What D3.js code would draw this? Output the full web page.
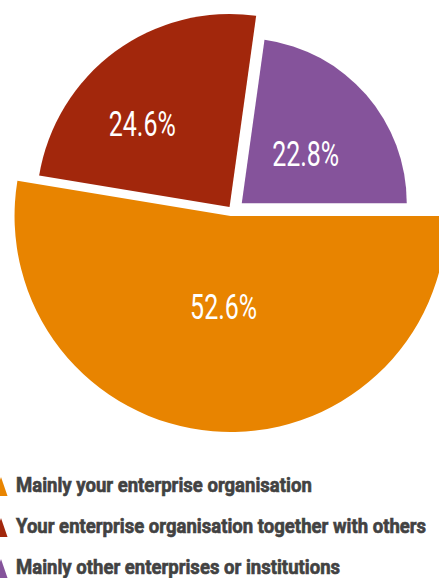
<!DOCTYPE html>
<html>
<head>
<meta charset="utf-8">
<script src="https://cdn.jsdelivr.net/npm/d3@7"></script>
<style>
  html, body { margin: 0; padding: 0; background: #ffffff; }
  svg { display: block; }
</style>
</head>
<body>
<svg id="chart" width="439" height="578"></svg>
<script>
// Who carried out the activity – share of responses (%)
const categories = [
  "Mainly your enterprise organisation",
  "Your enterprise organisation together with others",
  "Mainly other enterprises or institutions"
];
const shares = [52.6, 24.6, 22.8];
const valueLabels = ["52.6%", "24.6%", "22.8%"];

// Styling, one entry per slice
const colors = ["#E88400", "#A2270C", "#85539B"];
const outerRadii = [216, 193, 165];   // each slice has its own radius
const explode = [6.9, 2.6, 12.2];     // push-out distance from the shared centre
const explodeAngleShift = [0, 0, 12]; // degrees, tilt of the push-out direction
const labelRadius = [91, 121, 81];    // distance of the value label from the slice tip
const labelAngleShift = [-0.3, -9.8, 3.1]; // degrees

const svg = d3.select("#chart");
const cx = 231.1, cy = 209.1;
const deg = Math.PI / 180;

const pie = d3.pie()
  .sort(null)
  .value(d => d)
  .startAngle(Math.PI / 2)
  .endAngle(Math.PI / 2 + 2 * Math.PI);

const arcs = pie(shares);

const g = svg.append("g").attr("transform", `translate(${cx},${cy})`);

const slice = g.selectAll("g.slice")
  .data(arcs)
  .join("g")
  .attr("class", "slice")
  .attr("transform", (d, i) => {
    const a = (d.startAngle + d.endAngle) / 2 + explodeAngleShift[i] * deg;
    return `translate(${explode[i] * Math.sin(a)},${-explode[i] * Math.cos(a)})`;
  });

slice.append("path")
  .attr("d", (d, i) => d3.arc().innerRadius(0).outerRadius(outerRadii[i])(d))
  .attr("fill", (d, i) => colors[i]);

slice.append("text")
  .attr("transform", (d, i) => {
    const a = (d.startAngle + d.endAngle) / 2 + labelAngleShift[i] * deg;
    const r = labelRadius[i];
    return `translate(${r * Math.sin(a)},${-r * Math.cos(a)})`;
  })
  .attr("text-anchor", "middle")
  .attr("dy", "0.35em")
  .attr("font-family", "Roboto, 'DejaVu Sans', sans-serif")
  .attr("font-weight", 400)
  .attr("font-size", 35.5)
  .attr("textLength", 67)
  .attr("lengthAdjust", "spacingAndGlyphs")
  .attr("fill", "#ffffff")
  .text((d, i) => valueLabels[i]);

// Legend
const legendX = 16, legendY0 = 492, legendStep = 41;
const legend = svg.append("g");

const rows = legend.selectAll("g.row")
  .data(categories)
  .join("g")
  .attr("class", "row")
  .attr("transform", (d, i) => `translate(0,${legendY0 + i * legendStep})`);

rows.append("path")
  .attr("d", "M1,-15 L7.5,4 L-5.5,4 Z")
  .attr("fill", (d, i) => colors[i]);

const labels = rows.append("text")
  .attr("x", legendX)
  .attr("y", 0)
  .attr("font-family", "Roboto, 'Liberation Sans', sans-serif")
  .attr("font-weight", 700)
  .attr("font-size", 19.5)
  .attr("fill", "#424242")
  .attr("stroke", "#424242")
  .attr("stroke-width", 0.6)
  .text(d => d);

// condense the legend type horizontally
const natural = labels.nodes()[0].getComputedTextLength();
const sx = 296 / natural;
labels.attr("transform", `translate(${legendX},0) scale(${sx},1) translate(${-legendX},0)`);
</script>
</body>
</html>
